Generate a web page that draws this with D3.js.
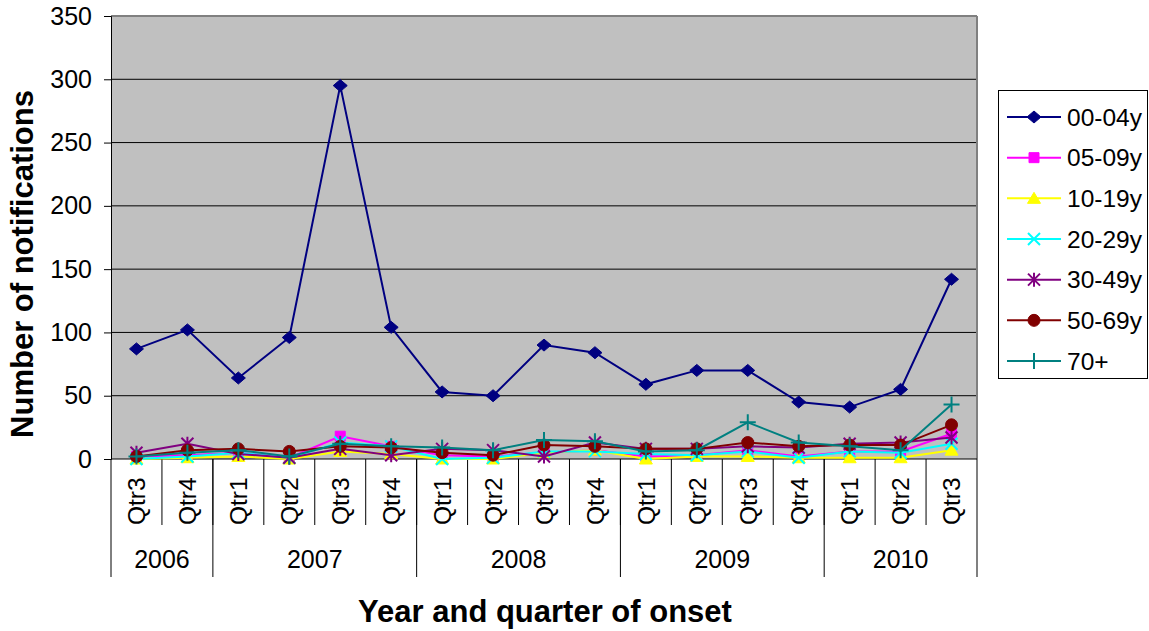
<!DOCTYPE html>
<html lang="en">
<head>
<meta charset="UTF-8">
<title>Notifications by age group</title>
<style>
  body { margin: 0; background: #fff; }
  svg { display: block; font-family: "Liberation Sans", Arial, sans-serif; }
</style>
</head>
<body>
<svg width="1149" height="631"></svg>
<script src="https://d3js.org/d3.v7.min.js"></script>
<script>
// categories
const quarters = ["Qtr3", "Qtr4", "Qtr1", "Qtr2", "Qtr3", "Qtr4", "Qtr1", "Qtr2", "Qtr3",
                  "Qtr4", "Qtr1", "Qtr2", "Qtr3", "Qtr4", "Qtr1", "Qtr2", "Qtr3"];
const years = ["2006", "2007", "2008", "2009", "2010"];
const yearCounts = [2, 4, 4, 4, 3];
const yTicks = [0, 50, 100, 150, 200, 250, 300, 350];

// series values
const age0004 = [87, 102, 64, 96, 295, 104, 53, 50, 90, 84, 59, 70, 70, 45, 41, 55, 142];
const age0509 = [2, 3, 5, 1, 18, 10, 3, 2, 5, 7, 2, 3, 7, 2, 6, 6, 20];
const age1019 = [0, 1, 2, 0, 6, 4, 0, 0, 5, 7, 0, 2, 2, 1, 1, 1, 7];
const age2029 = [0, 2, 5, 1, 13, 10, 0, 1, 6, 6, 4, 3, 6, 1, 6, 5, 12];
const age3049 = [5, 12, 4, 1, 8, 3, 8, 7, 2, 13, 8, 8, 10, 9, 12, 13, 17];
const age5069 = [2, 7, 8, 6, 10, 9, 5, 3, 11, 10, 8, 8, 13, 10, 11, 11, 27];
const age70 = [2, 5, 7, 2, 12, 10, 9, 7, 15, 14, 6, 7, 29, 13, 10, 7, 43];

const seriesNames = ["00-04y", "05-09y", "10-19y", "20-29y", "30-49y", "50-69y", "70+"];
const seriesValues = [age0004, age0509, age1019, age2029, age3049, age5069, age70];
const seriesColors = ["#000080", "#FF00FF", "#FFFF00", "#00FFFF", "#800080", "#800000", "#008080"];
const seriesMarkers = ["diamond", "square", "triangle", "x", "asterisk", "circle", "plus"];

const svg = d3.select("svg");
const plotL = 111, plotR = 977, plotT = 16, plotB = 459;

const x = d3.scaleBand().domain(d3.range(quarters.length)).range([plotL, plotR]);
const y = d3.scaleLinear().domain([0, 350]).range([plotB, plotT]);

// marker shapes
function markerPath(type) {
  const p = d3.path();
  if (type === "diamond") {
    p.moveTo(0, -6); p.lineTo(7, 0); p.lineTo(0, 6); p.lineTo(-7, 0); p.closePath();
  } else if (type === "square") {
    p.rect(-5, -5, 10, 10);
  } else if (type === "triangle") {
    p.moveTo(0, -6); p.lineTo(6.5, 5); p.lineTo(-6.5, 5); p.closePath();
  } else if (type === "circle") {
    p.arc(0, 0, 6, 0, 2 * Math.PI);
  } else if (type === "x") {
    p.moveTo(-6, -6); p.lineTo(6, 6); p.moveTo(6, -6); p.lineTo(-6, 6);
  } else if (type === "asterisk") {
    p.moveTo(-6, -6); p.lineTo(6, 6); p.moveTo(6, -6); p.lineTo(-6, 6);
    p.moveTo(0, -7); p.lineTo(0, 7);
  } else if (type === "plus") {
    p.moveTo(-8, 0); p.lineTo(8, 0); p.moveTo(0, -8); p.lineTo(0, 8);
  }
  return p.toString();
}
const stroked = t => t === "x" || t === "asterisk" || t === "plus";

// plot background
svg.append("rect")
  .attr("x", plotL).attr("y", plotT)
  .attr("width", plotR - plotL).attr("height", plotB - plotT)
  .attr("fill", "#C0C0C0");

// gridlines
svg.append("g").selectAll("line")
  .data(yTicks.filter(d => d > 0 && d < 350))
  .join("line")
  .attr("x1", plotL).attr("x2", plotR)
  .attr("y1", d => y(d)).attr("y2", d => y(d))
  .attr("stroke", "#000").attr("stroke-width", 1);

// plot border (top and right grey)
svg.append("line").attr("x1", plotL).attr("x2", plotR).attr("y1", plotT).attr("y2", plotT)
  .attr("stroke", "#808080").attr("stroke-width", 2);
svg.append("line").attr("x1", plotR).attr("x2", plotR).attr("y1", plotT).attr("y2", 577)
  .attr("stroke", "#808080").attr("stroke-width", 2);

// y axis
const yAxis = svg.append("g")
  .attr("transform", `translate(${plotL},0)`)
  .call(d3.axisLeft(y).tickValues(yTicks).tickSize(7).tickPadding(12));
yAxis.select(".domain").attr("stroke", "#000");
yAxis.selectAll("text").attr("font-size", 25).attr("font-family", "Liberation Sans, Arial, sans-serif")
  .attr("fill", "#000");

// x axis table: category ticks, year separators
const xg = svg.append("g");
xg.append("line").attr("x1", plotL).attr("x2", plotR).attr("y1", plotB).attr("y2", plotB)
  .attr("stroke", "#000").attr("stroke-width", 1);
xg.selectAll("line.qtick")
  .data(d3.range(1, quarters.length))
  .join("line")
  .attr("class", "qtick")
  .attr("x1", d => x(d)).attr("x2", d => x(d))
  .attr("y1", plotB).attr("y2", 525)
  .attr("stroke", "#000");

let starts = [0];
yearCounts.forEach((c, i) => starts.push(starts[i] + c));
xg.selectAll("line.ytick")
  .data(starts.slice(0, years.length))
  .join("line")
  .attr("class", "ytick")
  .attr("x1", d => x(d)).attr("x2", d => x(d))
  .attr("y1", plotB).attr("y2", 577)
  .attr("stroke", "#000");

xg.selectAll("text.qlab")
  .data(quarters)
  .join("text")
  .attr("class", "qlab")
  .attr("transform", (d, i) => `translate(${x(i) + x.bandwidth() / 2},525) rotate(-90)`)
  .attr("dy", "0.36em")
  .attr("font-size", 24.5)
  .text(d => d);

xg.selectAll("text.ylab")
  .data(years)
  .join("text")
  .attr("class", "ylab")
  .attr("x", (d, i) => {
    const a = x(starts[i]);
    const b = starts[i + 1] < quarters.length ? x(starts[i + 1]) : plotR;
    return (a + b) / 2;
  })
  .attr("y", 568)
  .attr("text-anchor", "middle")
  .attr("font-size", 25)
  .text(d => d);

// series
const line = d3.line()
  .x((d, i) => x(i) + x.bandwidth() / 2)
  .y(d => y(d));

seriesValues.forEach((vals, s) => {
  const g = svg.append("g");
  g.append("path")
    .datum(vals)
    .attr("d", line)
    .attr("fill", "none")
    .attr("stroke", seriesColors[s])
    .attr("stroke-width", 2);
  g.selectAll("path.m")
    .data(vals)
    .join("path")
    .attr("class", "m")
    .attr("transform", (d, i) => `translate(${x(i) + x.bandwidth() / 2},${y(d)})`)
    .attr("d", markerPath(seriesMarkers[s]))
    .attr("fill", stroked(seriesMarkers[s]) ? "none" : seriesColors[s])
    .attr("stroke", seriesColors[s])
    .attr("stroke-width", stroked(seriesMarkers[s]) ? 2 : 1);
});

// axis titles
svg.append("text")
  .attr("transform", "translate(33,264) rotate(-90)")
  .attr("text-anchor", "middle")
  .attr("font-size", 31)
  .attr("font-weight", "bold")
  .text("Number of notifications");

svg.append("text")
  .attr("x", 545).attr("y", 622)
  .attr("text-anchor", "middle")
  .attr("font-size", 31)
  .attr("font-weight", "bold")
  .text("Year and quarter of onset");

// legend
const legend = svg.append("g");
legend.append("rect")
  .attr("x", 998.5).attr("y", 90.5)
  .attr("width", 149).attr("height", 288)
  .attr("fill", "#fff").attr("stroke", "#000");
const ly = d3.scalePoint().domain(seriesNames).range([117, 361]);
seriesNames.forEach((name, s) => {
  const row = legend.append("g").attr("transform", `translate(0,${ly(name)})`);
  row.append("line").attr("x1", 1007).attr("x2", 1061)
    .attr("stroke", seriesColors[s]).attr("stroke-width", 2);
  row.append("path")
    .attr("transform", "translate(1034,0)")
    .attr("d", markerPath(seriesMarkers[s]))
    .attr("fill", stroked(seriesMarkers[s]) ? "none" : seriesColors[s])
    .attr("stroke", seriesColors[s])
    .attr("stroke-width", stroked(seriesMarkers[s]) ? 2 : 1);
  row.append("text")
    .attr("x", 1067).attr("dy", "0.36em")
    .attr("font-size", 24.5)
    .text(name);
});
</script>
</body>
</html>
